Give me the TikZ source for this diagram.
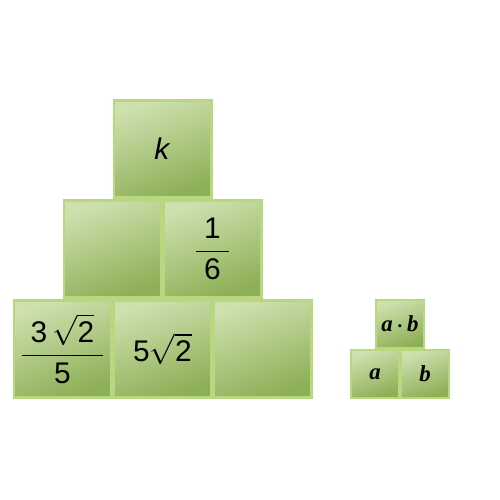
\documentclass[tikz,border=0pt]{standalone}
\usepackage{amsmath}
\usepackage{fontspec}
\setmainfont{Liberation Sans}
\newfontfamily\serifbi{Liberation Serif}[BoldItalicFont={* Bold Italic}]
\usetikzlibrary{positioning}
\definecolor{rimgreen}{HTML}{B8D880}
\definecolor{lightgreen}{HTML}{CDE0AE}
\definecolor{darkgreen}{HTML}{8DAF56}

\begin{document}
\begin{tikzpicture}[node distance=0pt and 0pt,
  blk/.style={draw=rimgreen,line width=1.5pt,top color=lightgreen,bottom color=darkgreen,shading angle=20,
    minimum width=2cm-1.5pt,minimum height=2cm-1.5pt,inner sep=0pt,font=\fontsize{17}{19}\selectfont},
  sblk/.style={blk,line width=1.2pt,minimum width=1cm-1.2pt,minimum height=1cm-1.2pt,
    font=\serifbi\bfseries\itshape\fontsize{13}{15}\selectfont}]
\useasboundingbox (0,0) rectangle (10,10);
% big pyramid
\node[blk] (b1) at (1.25,3.02) {$\displaystyle\frac{\;\text{3\,}\sqrt{\text{2}}\;}{\text{5}}$};
\node[blk,right=of b1] (b2) {$\text{5}\sqrt{\text{2}}$};
\node[blk,right=of b2] (b3) {};
\node[blk,above=of b1.north east,anchor=south] (m1) {};
\node[blk,right=of m1] (m2) {$\displaystyle\frac{\;\text{1}\;}{\text{6}}$};
\node[blk,above=of m1.north east,anchor=south] (t) {\textit{k}};
% small key
\node[sblk] (sa) at (7.5,2.52) {a};
\node[sblk,right=of sa] (sb) {b};
\node[sblk,above=of sa.north east,anchor=south] (sab) {a\,$\boldsymbol{\cdot}$\,b};
\end{tikzpicture}
\end{document}
